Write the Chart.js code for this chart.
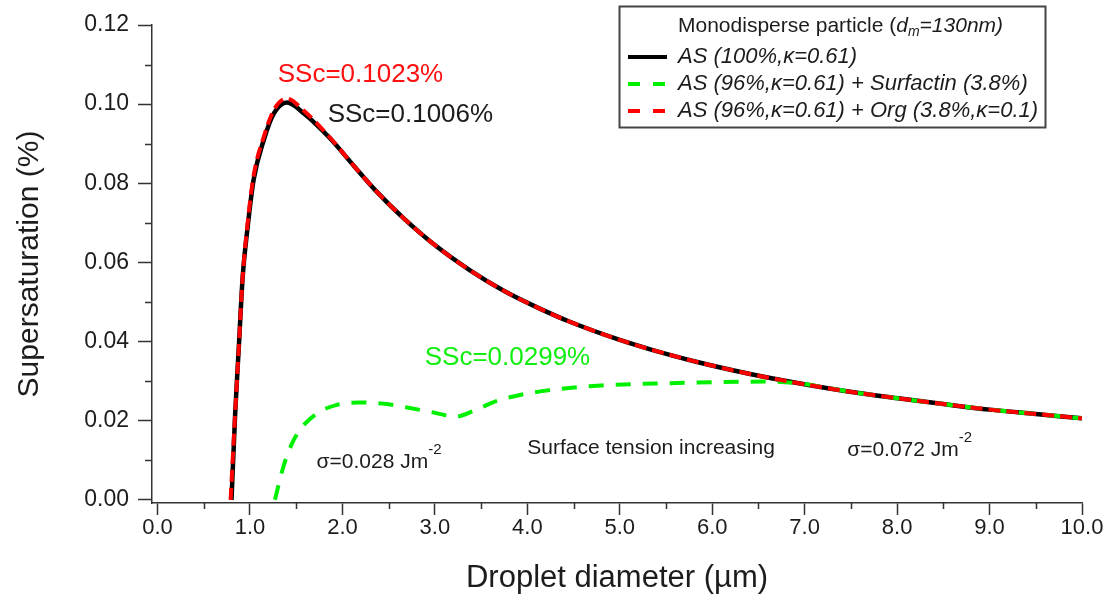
<!DOCTYPE html>
<html>
<head>
<meta charset="utf-8">
<script src="https://cdn.jsdelivr.net/npm/chart.js@4.4.1/dist/chart.umd.min.js"></script>
<style>
  html, body { margin: 0; padding: 0; background: #fff; }
  #wrap { width: 1108px; height: 602px; position: relative; }
</style>
</head>
<body>
<div id="wrap"><canvas id="chart"></canvas></div>
<script>
// droplet diameter (um) vs supersaturation (%)
const asDiameter = [0.80, 0.84, 0.88, 0.92, 0.97, 1.04, 1.15, 1.26, 1.40, 1.58, 1.86, 2.12, 2.37, 2.66, 3.02, 3.38, 3.74, 4.10, 4.46, 5.00, 5.32, 5.86, 6.41, 6.95, 7.49, 8.03, 8.50, 9.00, 9.50, 10.00];
const asSS = [0.000, 0.022, 0.039, 0.056, 0.068, 0.081, 0.091, 0.0977, 0.1004, 0.0977, 0.0915, 0.0845, 0.0779, 0.0712, 0.0640, 0.0580, 0.0529, 0.0487, 0.0450, 0.0404, 0.0381, 0.0347, 0.0318, 0.0294, 0.0273, 0.0256, 0.0242, 0.0228, 0.0217, 0.0206];

const surfDiameter = [1.27, 1.36, 1.45, 1.54, 1.73, 1.94, 2.19, 2.48, 2.73, 2.98, 3.22, 3.42, 3.67, 3.92, 4.20, 4.80, 5.40, 6.00, 6.60, 6.95, 7.49, 8.03, 8.50, 9.00, 9.50, 10.00];
const surfSS = [0.000, 0.0083, 0.0140, 0.0177, 0.0219, 0.0240, 0.0246, 0.0242, 0.0232, 0.0221, 0.0210, 0.0225, 0.0250, 0.0265, 0.0276, 0.0289, 0.0294, 0.0297, 0.0299, 0.0294, 0.0273, 0.0256, 0.0242, 0.0228, 0.0217, 0.0206];

const orgDiameter = [0.79, 0.84, 0.88, 0.92, 0.97, 1.04, 1.15, 1.26, 1.40, 1.58, 1.86, 2.12, 2.37, 2.66, 3.02, 3.38, 3.74, 4.10, 4.46, 5.00, 5.32, 5.86, 6.41, 6.95, 7.49, 8.03, 8.50, 9.00, 9.50, 10.00];
const orgSS = [0.000, 0.022, 0.039, 0.056, 0.069, 0.082, 0.0918, 0.0986, 0.1014, 0.0984, 0.0917, 0.0845, 0.0779, 0.0712, 0.0640, 0.0580, 0.0529, 0.0487, 0.0450, 0.0404, 0.0381, 0.0347, 0.0318, 0.0294, 0.0273, 0.0256, 0.0242, 0.0228, 0.0217, 0.0206];

const xTicks = [0, 1, 2, 3, 4, 5, 6, 7, 8, 9, 10];
const yTicks = [0, 0.02, 0.04, 0.06, 0.08, 0.10, 0.12];
const seriesLabels = ['AS (100%,\u03BA=0.61)', 'AS (96%,\u03BA=0.61) + Surfactin (3.8%)', 'AS (96%,\u03BA=0.61) + Org (3.8%,\u03BA=0.1)'];

const FONT = "'Liberation Sans', Arial, sans-serif";
const AXIS = '#333';
const TEXT = '#1c1c1c';

const toPoints = (xs, ys) => xs.map((x, i) => ({ x: x, y: ys[i] }));

// free text on the plot, placed in data units
const notes = [
  { x: 1.30, y: 0.1074, parts: [{ t: 'SSc=0.1023%', size: 26 }], color: '#ff1010' },
  { x: 1.84, y: 0.0973, parts: [{ t: 'SSc=0.1006%', size: 26 }], color: TEXT },
  { x: 2.89, y: 0.0359, parts: [{ t: 'SSc=0.0299%', size: 26 }], color: '#10ee10' },
  { x: 1.72, y: 0.0096, parts: [{ t: '\u03C3=0.028 Jm', size: 21 }, { t: '-2', size: 15, dy: -12 }], color: TEXT },
  { x: 4.00, y: 0.0131, parts: [{ t: 'Surface tension increasing', size: 21 }], color: TEXT },
  { x: 7.46, y: 0.0126, parts: [{ t: '\u03C3=0.072 Jm', size: 21 }, { t: '-2', size: 15, dy: -12 }], color: TEXT }
];

function drawParts(ctx, parts, x, y, color, italic) {
  ctx.fillStyle = color;
  ctx.textBaseline = 'middle';
  ctx.textAlign = 'left';
  parts.forEach(p => {
    ctx.font = ((p.italic || italic) ? 'italic ' : '') + p.size + 'px ' + FONT;
    ctx.fillText(p.t, x, y + (p.dy || 0));
    x += ctx.measureText(p.t).width;
  });
}

const extras = {
  id: 'extras',
  afterDraw(chart) {
    const { ctx, scales: { x, y } } = chart;
    ctx.save();

    // minor ticks
    ctx.strokeStyle = AXIS;
    ctx.lineWidth = 1.5;
    ctx.beginPath();
    for (let v = 0.5; v < 10; v += 1) {
      const px = Math.round(x.getPixelForValue(v)) + 0.5;
      ctx.moveTo(px, x.top);
      ctx.lineTo(px, x.top + 6);
    }
    for (let i = 1; i < 12; i += 2) {
      const py = Math.round(y.getPixelForValue(i / 100)) + 0.5;
      ctx.moveTo(y.right, py);
      ctx.lineTo(y.right - 7, py);
    }
    ctx.stroke();

    // notes
    notes.forEach(n => drawParts(ctx, n.parts, x.getPixelForValue(n.x), y.getPixelForValue(n.y), n.color, false));

    // legend box
    const bx = 619.5, by = 6.5, bw = 426, bh = 121;
    ctx.fillStyle = '#fff';
    ctx.fillRect(bx, by, bw, bh);
    ctx.strokeStyle = '#444';
    ctx.lineWidth = 2;
    ctx.strokeRect(bx, by, bw, bh);

    drawParts(ctx, [
      { t: 'Monodisperse particle (', size: 21 },
      { t: 'd', size: 21, italic: true },
      { t: 'm', size: 14, italic: true, dy: 6 },
      { t: '=130nm)', size: 21, italic: true }
    ], 678, 26, TEXT, false);

    const rows = [57, 84, 111];
    chart.data.datasets.slice(0, 3).forEach((ds, i) => {
      ctx.strokeStyle = ds.borderColor;
      ctx.lineWidth = 4;
      ctx.setLineDash(ds.legendDash || []);
      ctx.beginPath();
      ctx.moveTo(628, rows[i]);
      ctx.lineTo(667, rows[i]);
      ctx.stroke();
      ctx.setLineDash([]);
      drawParts(ctx, [{ t: ds.label, size: 22 }], 678, rows[i], TEXT, true);
    });

    ctx.restore();
  }
};

Chart.defaults.font.family = FONT;
Chart.defaults.color = TEXT;

new Chart(document.getElementById('chart'), {
  type: 'line',
  data: {
    datasets: [
      {
        label: seriesLabels[0],
        data: toPoints(asDiameter, asSS),
        borderColor: '#000000',
        borderWidth: 4.5,
        order: 2
      },
      {
        label: seriesLabels[1],
        data: toPoints(surfDiameter, surfSS),
        borderColor: '#00f000',
        borderWidth: 4,
        borderDash: [15, 12],
        legendDash: [12, 13],
        order: 1
      },
      {
        label: seriesLabels[2],
        data: toPoints(orgDiameter, orgSS),
        borderColor: '#ff0000',
        borderWidth: 4,
        borderDash: [12, 6],
        legendDash: [12, 13],
        order: 0
      }
    ]
  },
  options: {
    responsive: true,
    maintainAspectRatio: false,
    animation: false,
    layout: { padding: { top: 25, right: 26, bottom: 0, left: 0 } },
    elements: {
      point: { radius: 0 },
      line: { cubicInterpolationMode: 'monotone', fill: false }
    },
    plugins: {
      legend: { display: false },
      tooltip: { enabled: false }
    },
    scales: {
      x: {
        type: 'linear',
        min: -0.06,
        max: 10,
        afterBuildTicks: s => { s.ticks = xTicks.map(v => ({ value: v })); },
        afterFit: s => { s.height = 99; },
        grid: { drawOnChartArea: false, tickLength: 12, tickWidth: 1.5, tickColor: AXIS },
        border: { display: true, color: AXIS, width: 1.5 },
        ticks: {
          padding: 0,
          maxRotation: 0,
          font: { size: 22 },
          color: TEXT,
          callback: v => v.toFixed(1)
        },
        title: {
          display: true,
          text: 'Droplet diameter (\u00B5m)',
          font: { size: 31 },
          color: TEXT,
          padding: { top: 0, bottom: 5 }
        }
      },
      y: {
        type: 'linear',
        min: -0.0008,
        max: 0.12,
        afterBuildTicks: s => { s.ticks = yTicks.map(v => ({ value: v })); },
        afterFit: s => { s.width = 152; },
        grid: { drawOnChartArea: false, tickLength: 14, tickWidth: 1.5, tickColor: AXIS },
        border: { display: true, color: AXIS, width: 1.5 },
        ticks: {
          padding: 9,
          font: { size: 23 },
          color: TEXT,
          callback: v => v.toFixed(2)
        },
        title: {
          display: true,
          text: 'Supersaturation (%)',
          font: { size: 30 },
          color: TEXT,
          padding: { top: 12, bottom: 0 }
        }
      }
    }
  },
  plugins: [extras]
});
</script>
</body>
</html>
